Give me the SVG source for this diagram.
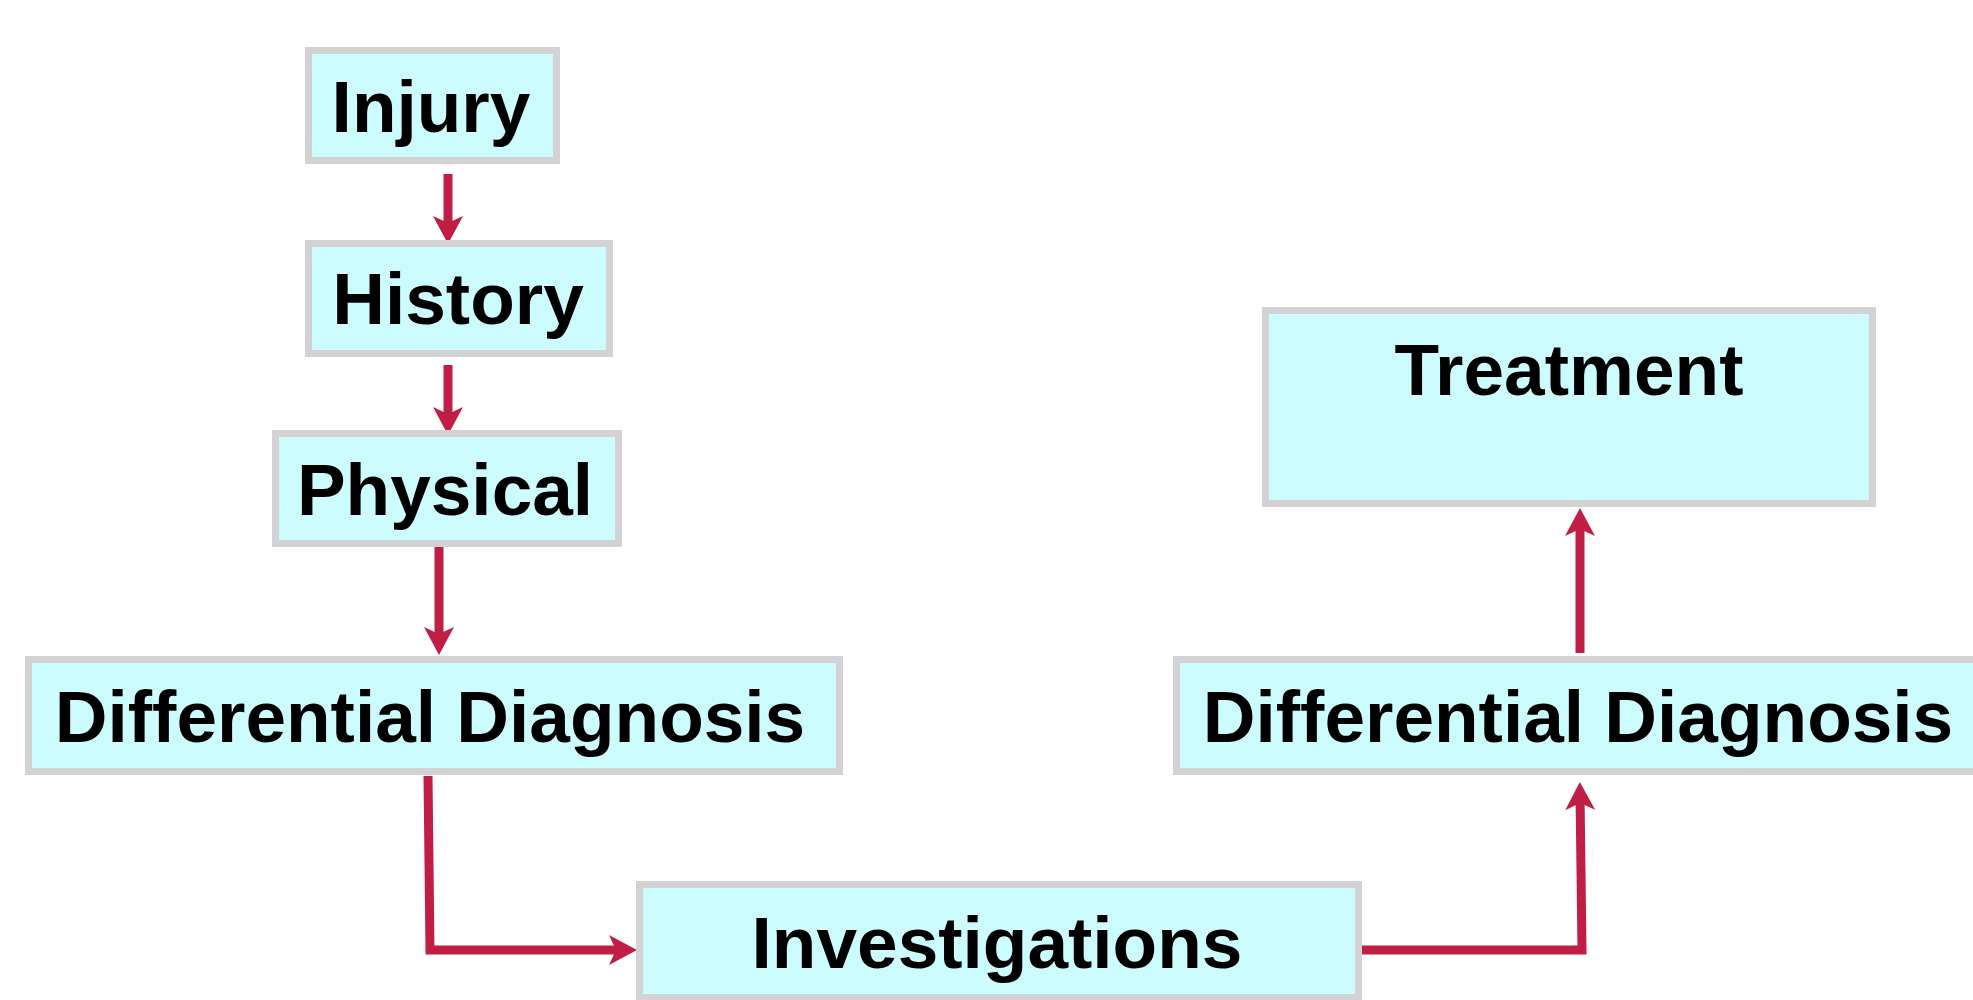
<svg xmlns="http://www.w3.org/2000/svg" width="1973" height="1000" viewBox="0 0 1973 1000">
  <style>
    .box { fill: #ccfcfd; stroke: #d3d3d5; stroke-width: 7; }
    .lbl { font-family: "Liberation Sans", Arial, sans-serif; font-weight: bold; font-size: 73px; fill: #000; text-anchor: middle; }
    .con { fill: none; stroke: #c01e45; stroke-width: 9; stroke-linejoin: miter; }
  </style>
  <defs>
    <marker id="ah" viewBox="0 0 28 30" refX="17" refY="15" markerWidth="28" markerHeight="30" markerUnits="userSpaceOnUse" orient="auto">
      <path d="M0,0 L28,15 L0,30 L7,15 Z" fill="#c01e45"/>
    </marker>
  </defs>
  <rect width="1973" height="1000" fill="#ffffff"/>

  <g id="connectors">
    <path class="con" d="M448,174 L448,233" marker-end="url(#ah)"/>
    <path class="con" d="M448,365 L448,424" marker-end="url(#ah)"/>
    <path class="con" d="M439,547 L439,644" marker-end="url(#ah)"/>
    <path class="con" d="M428,776 L430,950 L626,950" marker-end="url(#ah)"/>
    <path class="con" d="M1362,950 L1582,950 L1580,793" marker-end="url(#ah)"/>
    <path class="con" d="M1580,653 L1580,519" marker-end="url(#ah)"/>
  </g>

  <g id="injury">
    <rect class="box" x="308.5" y="50.5" width="248" height="110"/>
    <text class="lbl" x="431" y="132">Injury</text>
  </g>
  <g id="history">
    <rect class="box" x="308.5" y="243.5" width="301" height="110"/>
    <text class="lbl" x="458" y="324">History</text>
  </g>
  <g id="physical">
    <rect class="box" x="275.5" y="433.5" width="343" height="110"/>
    <text class="lbl" x="445" y="515">Physical</text>
  </g>
  <g id="differential-diagnosis-left">
    <rect class="box" x="28.5" y="659.5" width="811" height="112"/>
    <text class="lbl" x="430" y="742">Differential Diagnosis</text>
  </g>
  <g id="investigations">
    <rect class="box" x="639.5" y="884.5" width="719" height="113"/>
    <text class="lbl" x="997" y="968">Investigations</text>
  </g>
  <g id="differential-diagnosis-right">
    <rect class="box" x="1176.5" y="659.5" width="802" height="112"/>
    <text class="lbl" x="1578" y="742">Differential Diagnosis</text>
  </g>
  <g id="treatment">
    <rect class="box" x="1265.5" y="310.5" width="607" height="193"/>
    <text class="lbl" x="1569" y="395">Treatment</text>
  </g>
</svg>
